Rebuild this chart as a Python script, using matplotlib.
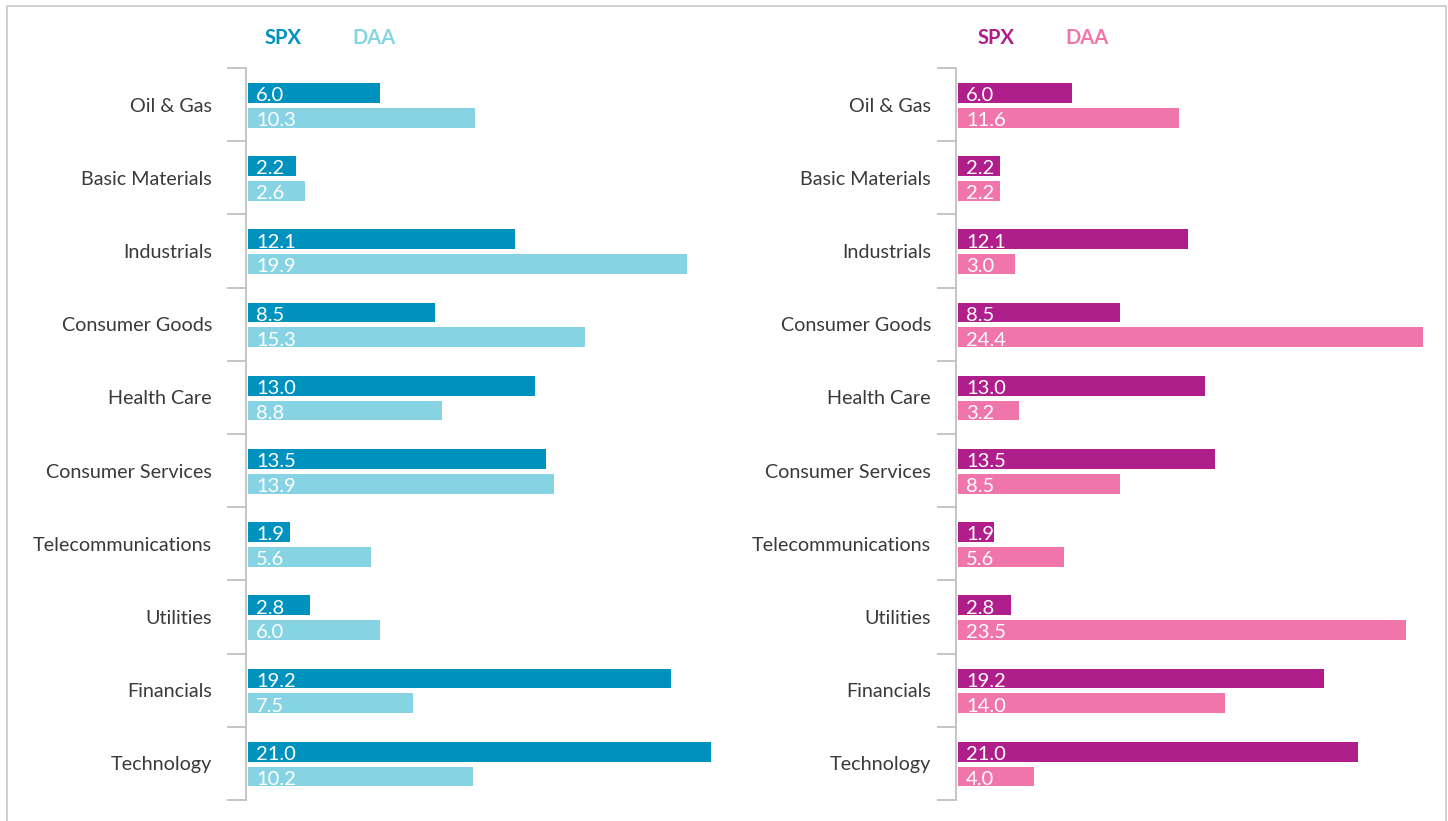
import matplotlib
matplotlib.use("Agg")
import matplotlib.pyplot as plt
from matplotlib.patches import Rectangle

categories = ["Oil & Gas", "Basic Materials", "Industrials", "Consumer Goods",
              "Health Care", "Consumer Services", "Telecommunications",
              "Utilities", "Financials", "Technology"]
spx = [6.0, 2.2, 12.1, 8.5, 13.0, 13.5, 1.9, 2.8, 19.2, 21.0]
daa_left = [10.3, 2.6, 19.9, 15.3, 8.8, 13.9, 5.6, 6.0, 7.5, 10.2]
daa_right = [11.6, 2.2, 3.0, 24.4, 3.2, 8.5, 5.6, 23.5, 14.0, 4.0]
series_names = ["SPX", "DAA"]

plt.rcParams['font.family'] = ['Lato', 'DejaVu Sans']

W, H = 1448, 821
fig = plt.figure(figsize=(W / 100, H / 100), dpi=100)

# figure border
fig.add_artist(Rectangle((7 / W, -0.01), (1446 - 7) / W, 1 - 6 / H + 0.01,
                         transform=fig.transFigure, fill=False,
                         edgecolor="#C8C8C8", linewidth=1.2))

panels = [
    dict(left=246, xmax=22.0, ppu=22.05, daa=daa_left, pad=24.5,
         c1="#0092BF", c2="#86D3E3", leg=(265, 352)),
    dict(left=956, xmax=25.0, ppu=19.06, daa=daa_right, pad=18,
         c1="#B01E8C", c2="#F075AB", leg=(978, 1065)),
]

top_px, bot_px = 68, 800
h1 = 0.27
off1, off2 = 0.34, 0.68

for p in panels:
    xmin = -0.09
    width_px = (p["xmax"] - xmin) * p["ppu"]
    ax = fig.add_axes([p["left"] / W, 1 - bot_px / H, width_px / W,
                       (bot_px - top_px) / H])
    n = len(categories)
    y1 = [i + off1 for i in range(n)]
    y2 = [i + off2 for i in range(n)]
    ax.barh(y1, spx, height=h1, color=p["c1"], left=0)
    ax.barh(y2, p["daa"], height=h1, color=p["c2"], left=0)
    for yy, v in zip(y1, spx):
        ax.annotate(f"{v:.1f}", (0, yy), xytext=(6, -2), textcoords="offset points",
                    ha="left", va="center", color="white", fontsize=14.5)
    for yy, v in zip(y2, p["daa"]):
        ax.annotate(f"{v:.1f}", (0, yy), xytext=(6, -2), textcoords="offset points",
                    ha="left", va="center", color="white", fontsize=14.5)
    ax.set_xlim(xmin, p["xmax"])
    ax.set_ylim(n, 0)
    ax.set_yticks([i + 0.5 for i in range(n)])
    ax.set_yticklabels(categories, fontsize=14.2, color="#3A3A3A")
    ax.tick_params(axis="y", which="major", length=0, pad=p["pad"])
    ax.set_yticks(list(range(n + 1)), minor=True)
    ax.tick_params(axis="y", which="minor", length=14, width=1.3, color="#C0C0C0")
    ax.set_xticks([])
    for s in ["top", "right", "bottom"]:
        ax.spines[s].set_visible(False)
    ax.spines["left"].set_color("#C0C0C0")
    ax.spines["left"].set_linewidth(1.3)
    ax.patch.set_alpha(0)

    fig.text(p["leg"][0] / W, 1 - 38 / H, series_names[0], color=p["c1"],
             fontsize=14.5, fontweight="bold", ha="left", va="center")
    fig.text(p["leg"][1] / W, 1 - 38 / H, series_names[1], color=p["c2"],
             fontsize=14.5, fontweight="bold", ha="left", va="center")

fig.savefig("out.png", dpi=100)
